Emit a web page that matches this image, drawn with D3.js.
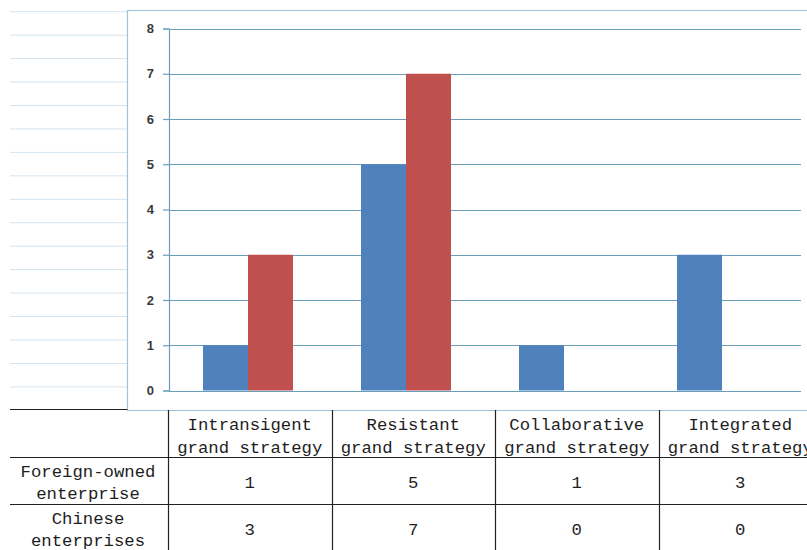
<!DOCTYPE html>
<html>
<head>
<meta charset="utf-8">
<script src="https://cdn.jsdelivr.net/npm/d3@7/dist/d3.min.js"></script>
<style>
  html, body { margin: 0; padding: 0; background: #fff; }
  svg { display: block; }
</style>
</head>
<body>
<svg id="chart" width="807" height="550"></svg>
<script>
// Strategy categories (column headers, two lines each)
const categories = ["Intransigent", "Resistant", "Collaborative", "Integrated"];
const headerSecondLine = "grand strategy";
// Series (row labels, two lines each)
const seriesNames = ["Foreign-owned enterprise", "Chinese enterprises"];
const seriesLabelLines = [["Foreign-owned", "enterprise"], ["Chinese", "enterprises"]];
const foreignValues = [1, 5, 1, 3];
const chineseValues = [3, 7, 0, 0];
const yTicks = [0, 1, 2, 3, 4, 5, 6, 7, 8];
const seriesColors = ["#4f81bd", "#c0504d"];

const seriesValues = [foreignValues, chineseValues];
const rows = categories.map((c, i) => ({
  category: c,
  values: seriesNames.map((s, j) => ({ series: s, value: seriesValues[j][i] }))
}));

const svg = d3.select("#chart");
const gridColor = "#6a9fbc";
const sheetLine = "#d3e3ee";
const monoFont = "'Liberation Mono', 'DejaVu Sans Mono', monospace";

// Spreadsheet row lines to the left of the chart object
const sheetRows = d3.range(17);
svg.append("g").selectAll("line").data(sheetRows).join("line")
  .attr("x1", 10).attr("x2", 127)
  .attr("y1", d => 11.7 + d * 23.45).attr("y2", d => 11.7 + d * 23.45)
  .attr("stroke", sheetLine).attr("stroke-width", 1);

// Chart object frame
svg.append("path")
  .attr("d", "M127.5,410.5 V10.5 H807")
  .attr("fill", "none").attr("stroke", "#9fc2d8").attr("stroke-width", 1.2);

// Scales
const plotLeft = 169, plotRight = 801, plotTop = 28.5, plotBottom = 390.5;
const x0 = d3.scaleBand().domain(categories).range([plotLeft, plotRight]).padding(0);
const x1 = d3.scaleBand().domain(seriesNames).range([0, x0.bandwidth()])
  .paddingInner(0).paddingOuter(0.756);
const y = d3.scaleLinear().domain([0, 8]).range([plotBottom, plotTop]);

// Gridlines
svg.append("g").selectAll("line").data(yTicks).join("line")
  .attr("x1", plotLeft).attr("x2", plotRight)
  .attr("y1", d => Math.round(y(d)) + 0.5).attr("y2", d => Math.round(y(d)) + 0.5)
  .attr("stroke", gridColor).attr("stroke-width", 1.2);

// Y axis
const yAxis = d3.axisLeft(y).tickValues(yTicks).tickSize(6).tickPadding(9).tickFormat(d3.format("d"));
const gy = svg.append("g").attr("transform", `translate(${plotLeft},0)`).call(yAxis);
gy.select(".domain").attr("stroke", gridColor).attr("stroke-width", 1.2);
gy.selectAll(".tick line").attr("stroke", gridColor).attr("stroke-width", 1.2);
gy.selectAll(".tick text")
  .attr("font-family", "'Liberation Sans', Arial, sans-serif")
  .attr("font-size", 13).attr("font-weight", "bold").attr("fill", "#3a3a3a");

// Bars
svg.append("g").selectAll("g").data(rows).join("g")
  .attr("transform", d => `translate(${x0(d.category)},0)`)
  .selectAll("rect").data(d => d.values).join("rect")
  .attr("x", d => x1(d.series))
  .attr("width", x1.bandwidth())
  .attr("y", d => y(d.value))
  .attr("height", d => y(0) - y(d.value))
  .attr("fill", (d, i) => seriesColors[i]);

// Data table below the chart
const tableLeft = 10, labelColRight = 168;
const colX = d3.scaleLinear().domain([0, 4]).range([labelColRight, labelColRight + 4 * 163.5]);
const rowTops = [410, 457, 504, 551];
const table = svg.append("g");

table.append("line").attr("x1", tableLeft).attr("x2", 127.5)
  .attr("y1", 409.5).attr("y2", 409.5).attr("stroke", "#222").attr("stroke-width", 1.2);
table.append("line").attr("x1", 127.5).attr("x2", 807)
  .attr("y1", 410.5).attr("y2", 410.5).attr("stroke", "#9fc2d8").attr("stroke-width", 1.2);
table.selectAll("line.h").data([rowTops[1], rowTops[2]]).join("line")
  .attr("class", "h")
  .attr("x1", tableLeft).attr("x2", 807)
  .attr("y1", d => d + 0.5).attr("y2", d => d + 0.5)
  .attr("stroke", "#222").attr("stroke-width", 1.2);
table.selectAll("line.v").data(d3.range(4)).join("line")
  .attr("class", "v")
  .attr("x1", d => Math.round(colX(d)) + 0.5).attr("x2", d => Math.round(colX(d)) + 0.5)
  .attr("y1", 410).attr("y2", 550)
  .attr("stroke", "#222").attr("stroke-width", 1.2);

const cellText = (sel) => sel
  .attr("font-family", monoFont).attr("font-size", 17.3)
  .attr("fill", "#1e1e1e").attr("text-anchor", "middle");

// Column headers
categories.forEach((c, i) => {
  const cx = (colX(i) + colX(i + 1)) / 2;
  cellText(table.append("text")).attr("x", cx).attr("y", 430).text(c);
  cellText(table.append("text")).attr("x", cx).attr("y", 453).text(headerSecondLine);
});

// Row labels and values
seriesLabelLines.forEach((lines, j) => {
  const top = rowTops[j + 1];
  cellText(table.append("text")).attr("x", 88).attr("y", top + 20).text(lines[0]);
  cellText(table.append("text")).attr("x", 88).attr("y", top + 42).text(lines[1]);
  seriesValues[j].forEach((v, i) => {
    const cx = (colX(i) + colX(i + 1)) / 2;
    cellText(table.append("text")).attr("x", cx).attr("y", top + 31).text(v);
  });
});
</script>
</body>
</html>
